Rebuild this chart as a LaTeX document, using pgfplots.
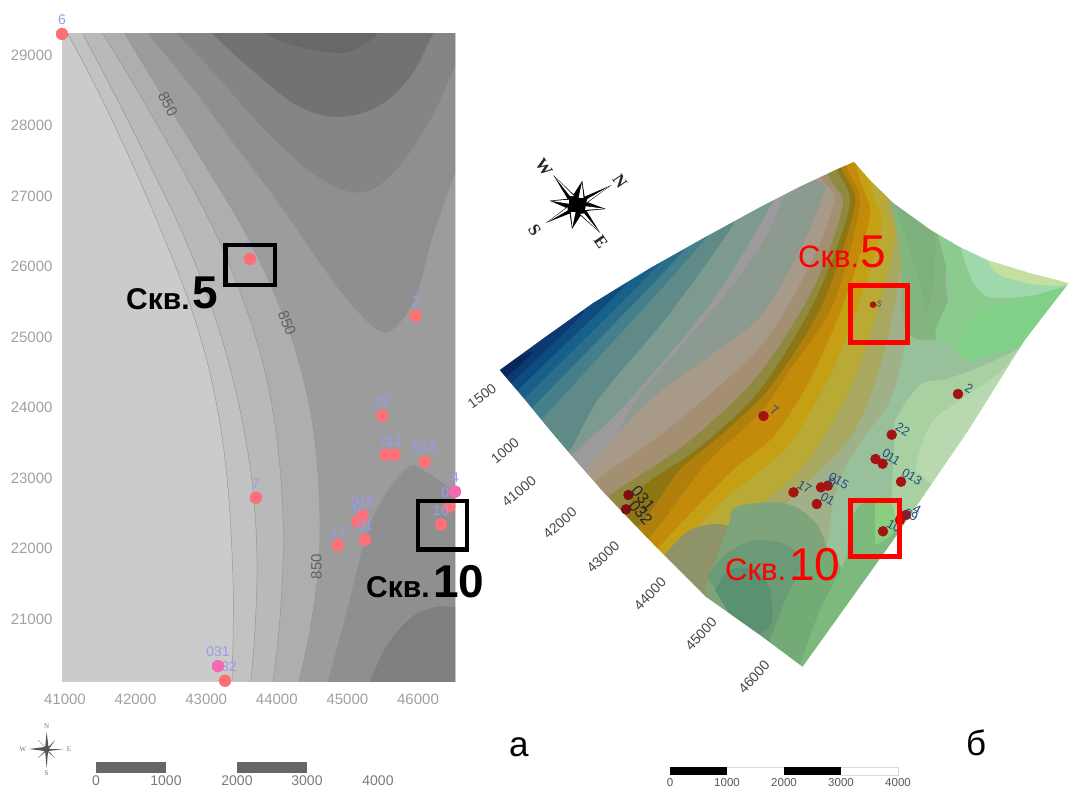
\documentclass[border=0pt]{standalone}
\usepackage{pgfplots}
\pgfplotsset{compat=1.18}
\usepackage{fontspec}
\setmainfont{Liberation Sans}
\newfontfamily\serifx{Liberation Serif}
\newcommand{\fs}[1]{\fontsize{#1}{#1}\selectfont}
\newcommand{\dc}[1]{\xglobal\definecolor{c#1}{HTML}{#1}}
\newcommand{\stripe}[2]{\dc{#1}\addplot[fill=c#1,draw=none,smooth,tension=0.5] coordinates {#2 (1150,-60) (1150,900) (600,900)};}
\newcommand{\patchs}[2]{\dc{#1}\addplot[fill=c#1,draw=none,smooth,tension=0.6] coordinates {#2};}
\newcommand{\poly}[2]{\dc{#1}\addplot[fill=c#1,draw=none] coordinates {#2} --cycle;}
\newcommand{\cont}[1]{\addplot[draw=black!42,line width=0.45pt,smooth,tension=0.6] coordinates {#1};}
\definecolor{tickgray}{HTML}{A0A0A0}
\definecolor{lilac}{HTML}{9A9AF0}
\definecolor{wellpink}{HTML}{FD7078}
\definecolor{wellmag}{HTML}{F468B0}
\definecolor{wellred}{HTML}{A51212}
\definecolor{boxred}{HTML}{FF0000}
\definecolor{wellblue}{HTML}{1F4A80}
\pgfplotsset{canvas/.style={
  anchor=south west, at={(0pt,0pt)}, scale only axis, width=1069pt, height=787pt,
  xmin=0, xmax=1069, ymin=0, ymax=787, y dir=reverse, hide axis, enlargelimits=false}}
\begin{document}
\begin{tikzpicture}
\useasboundingbox (0,0) rectangle (1069pt,787pt);
% ---------- right surface (pixel coordinates) ----------
\begin{axis}[canvas]
\poly{08285C}{(470,120)(1069,120)(1069,700)(470,700)}
\stripe{0B3A70}{(495,390)(507,377)(533,352)(545,330)}
\stripe{0E4C80}{(500,397)(512,383)(583,313)(595,280)}
\stripe{17608A}{(505,405)(518,390)(627,283)(640,250)}
\stripe{2A6E8A}{(512,412)(525,398)(663,260)(675,225)}
\stripe{44808C}{(520,420)(533,407)(687,247)(700,210)}
\stripe{5F8A88}{(530,432)(543,418)(707,237)(720,200)}
\stripe{7C9A90}{(558,462)(572,447)(600,397)(667,317)(733,225)(745,190)}
\stripe{9C9A9C}{(563,465)(577,450)(625,405)(713,300)(775,198)(785,165)}
\stripe{8C9A90}{(620,430)(643,390)(713,310)(760,247)(790,185)(810,150)}
\stripe{A89A88}{(575,480)(588,467)(647,403)(700,363)(760,317)(800,250)(825,190)(830,150)}
\stripe{A48F72}{(588,490)(600,477)(667,430)(760,347)(810,265)(835,200)(838,145)}
\stripe{8F8A40}{(601,506)(613,493)(687,443)(760,373)(815,285)(843,205)(846,140)}
\stripe{8E7615}{(613,522)(625,510)(647,483)(700,447)(760,390)(815,300)(850,205)(852,125)}
\stripe{B07F0C}{(628,535)(645,520)(680,470)(727,430)(772,385)(822,305)(855,205)(856,125)}
\stripe{C48A0A}{(640,548)(660,525)(707,463)(760,413)(790,370)(833,305)(860,205)(862,125)}
\stripe{C4A012}{(650,558)(670,535)(733,470)(773,437)(810,380)(845,300)(870,215)(874,130)}
\stripe{B8AA35}{(660,575)(680,545)(727,497)(787,447)(830,375)(860,300)(882,225)(888,150)}
\stripe{A8A860}{(672,585)(690,565)(735,525)(800,470)(845,400)(875,320)(895,240)(905,165)}
\stripe{A0B088}{(690,600)(720,565)(800,490)(855,430)(885,350)(905,250)(925,175)}
% right-hand greens
\patchs{98C09A}{(892,180)(905,250)(907,330)(890,400)(862,440)(840,480)(830,530)(840,600)(1100,600)(1100,170)}
\patchs{82B67E}{(885,175)(900,250)(906,330)(943,338)(950,315)(945,280)(950,240)(925,215)}
\patchs{7CB07C}{(880,170)(893,200)(910,250)(924,300)(926,312)(932,290)(935,240)(925,215)}
\patchs{8CCB8E}{(935,225)(950,290)(945,345)(1100,340)(1100,280)(1030,273)(985,258)}
\patchs{9FD8AC}{(960,245)(975,285)(1000,298)(1075,288)(1080,275)(1000,255)}
\patchs{C4DFA0}{(985,255)(1000,275)(1040,285)(1070,283)(1030,268)}
\patchs{80D088}{(955,352)(968,322)(985,310)(1020,300)(1075,285)(1075,300)(1040,335)(1000,352)(970,362)}
\patchs{A8D0A0}{(895,420)(920,385)(950,378)(1000,358)(1050,330)(1069,300)(1060,400)(960,480)(890,540)}
\patchs{B8D8B0}{(915,470)(930,425)(960,400)(1000,372)(1040,330)(1050,400)(950,500)}
% bottom greens
\patchs{8F9468}{(665,555)(690,530)(725,525)(740,545)(720,600)(690,590)}
\patchs{7FA47C}{(705,590)(728,527)(737,507)(783,503)(813,520)(828,550)(850,620)(820,690)(720,620)}
\patchs{6A9A76}{(707,577)(727,553)(757,540)(790,547)(805,570)(800,600)(795,660)(760,650)}
\patchs{5A9170}{(715,590)(730,570)(755,570)(770,590)(770,625)(745,640)}
\patchs{72AB76}{(770,640)(790,590)(810,560)(830,550)(850,600)(830,650)(800,690)}
\patchs{7DB87C}{(795,680)(820,610)(845,560)(850,520)(870,500)(885,520)(895,550)(830,690)}
\patchs{8ACF80}{(875,495)(890,500)(895,530)(875,545)}
% white masks outside the surface
\poly{FFFFFF}{(460,-10)(1100,-10)(1100,283)(1069,283)(1030,273)(987.5,260)(960,247)(931,230)(893.5,203)(870,180)(854,161.7)(835,170)(799.5,186.7)(760,207)(705.6,236.7)(650,268)(592.8,303)(545,337)(499.5,370)(460,370)}
\poly{FFFFFF}{(460,369)(499.5,370)(525,400)(549.5,430)(575,460)(604,493)(649,540)(705.6,596.7)(762,636.7)(802.6,667)(802.6,800)(460,800)}
\poly{FFFFFF}{(802.6,667)(893.5,540)(968.7,430)(1025,340)(1069,283)(1100,283)(1100,800)(790,800)}
% wells on the surface
\addplot[only marks,color=wellred,mark=*,mark size=5pt,
  nodes near coords,point meta=explicit symbolic,
  nodes near coords style={font=\fs{12.5},text=wellblue,rotate=-30,anchor=center,inner sep=0pt,xshift=7pt,yshift=10pt}]
 table[meta=label,row sep=\\]{x y label\\
 958 394 2\\ 891.7 434.7 22\\ 875.5 459 0\\ 882.6 463.7 11\\ 901 481.7 013\\
 827.8 485.7 015\\ 821 487.3 0\\ 793.5 492.3 17\\ 816.8 504 01\\ 883 531.3 10\\
 906 515 4\\ 900 520 09\\ 763.5 416 7\\};
\addplot[only marks,color=wellred,mark=*,mark size=3pt,
  nodes near coords,point meta=explicit symbolic,
  nodes near coords style={font=\fs{9},text=black!70,rotate=-30,anchor=center,inner sep=0pt,xshift=5pt,yshift=4pt}]
 table[meta=label,row sep=\\]{x y label\\ 873 304.7 5\\};
\addplot[only marks,color=wellred!80!black,mark=*,mark size=5pt,
  nodes near coords,point meta=explicit symbolic,
  nodes near coords style={font=\fs{16},text=black!85,rotate=-50,anchor=center,inner sep=0pt,xshift=12pt,yshift=9pt}]
 table[meta=label,row sep=\\]{x y label\\ 628.5 495 031\\ 626 509.3 032\\};
% rotated coordinate labels
\foreach \t/\xx/\yy/\r/\s in {1500/482/396/36/14,1000/505/451/40/14,41000/519/491/39/14,42000/560/523/41/14,43000/603/557/44/14,44000/650/594/46/14,45000/701/634/47/14,46000/754/677/48/14}{
 \edef\tmp{\noexpand\node[rotate=\r,text=black!72,font=\noexpand\fs{\s}] at (axis cs:\xx,\yy) {\t};}\tmp}
\end{axis}
% ---------- left contour map (pixel coordinates) ----------
\begin{axis}[anchor=south west,at={(62pt,106pt)},scale only axis,width=393pt,height=647pt,
  xmin=62,xmax=455,ymin=34,ymax=681,y dir=reverse,hide axis,enlargelimits=false]
\poly{CBCBCB}{(0,0)(500,0)(500,700)(0,700)}
\patchs{C2C2C2}{(60,15)(68,34)(100,95)(135,170)(165,240)(190,305)(208,365)(221,430)(229,500)(233,580)(233,640)(232,681)(230,720)(520,720)(520,0)}
\patchs{B9B9B9}{(75,15)(83,34)(115,95)(150,165)(182,232)(208,297)(228,360)(243,425)(253,490)(257,560)(255,630)(250.7,681)(245,720)(520,720)(520,0)}
\patchs{AEAEAE}{(92,15)(103,34)(140,95)(180,165)(215,232)(242,297)(262,360)(275,425)(282,495)(283,560)(279,630)(273,681)(268,720)(520,720)(520,0)}
\patchs{9C9C9C}{(113,15)(125,34)(165,100)(205,165)(245,232)(275,295)(297,355)(312,420)(319,490)(319,560)(310,630)(299,681)(290,720)(520,720)(520,0)}
\patchs{8F8F8F}{(130,10)(148,34)(190,85)(235,145)(280,205)(325,270)(358,312)(383,332)(402,320)(418,290)(433,235)(455,173)(480,100)(480,10)}
\patchs{858585}{(165,10)(177,34)(217,77)(267,133)(317,177)(357,193)(390,177)(427,127)(455,67)(480,10)}
\patchs{727272}{(200,10)(213,34)(267,83)(300,107)(337,117)(377,107)(410,77)(433,34)(445,10)}
\patchs{686868}{(250,10)(267,34)(300,47)(340,53)(360,47)(377,34)(390,10)}
\patchs{8F8F8F}{(318,720)(328,681)(348,607)(365,540)(382,500)(409,467)(426,472)(455,492)(480,510)(480,720)}
\patchs{7F7F7F}{(355,720)(370,681)(388.5,643)(412,617)(436,607)(455,607)(480,607)(480,720)}
\cont{(68,34)(100,95)(135,170)(165,240)(190,305)(208,365)(221,430)(229,500)(233,580)(233,640)(232,681)}
\cont{(83,34)(115,95)(150,165)(182,232)(208,297)(228,360)(243,425)(253,490)(257,560)(255,630)(250.7,681)}
\cont{(103,34)(140,95)(180,165)(215,232)(242,297)(262,360)(275,425)(282,495)(283,560)(279,630)(273,681)}
\cont{(125,34)(165,100)(205,165)(245,232)(275,295)(297,355)(312,420)(319,490)(319,560)(310,630)(299,681)}
\cont{(148,34)(190,85)(235,145)(280,205)(325,270)(358,312)(383,332)(402,320)(418,290)(433,235)(455,173)}
\cont{(177,34)(217,77)(267,133)(317,177)(357,193)(390,177)(427,127)(455,67)}
\cont{(328,681)(348,607)(365,540)(382,500)(409,467)(426,472)(455,492)}
\node[rotate=-62,text=black!62,font=\fs{15}] at (axis cs:168,104) {850};
\node[rotate=-68,text=black!62,font=\fs{15}] at (axis cs:287,323) {850};
\node[rotate=90,text=black!62,font=\fs{15}] at (axis cs:316.5,566.7) {850};
\end{axis}
% ---------- left wells with true map coordinates ----------
\begin{axis}[anchor=south west,at={(62pt,106pt)},scale only axis,width=393pt,height=647pt,
  xmin=40958,xmax=46524,ymin=20121,ymax=29298,clip=false,enlargelimits=false,
  axis line style={draw=none},major tick length=0pt,
  xtick={41000,42000,43000,44000,45000,46000},ytick={21000,22000,23000,24000,25000,26000,27000,28000,29000},
  scaled ticks=false,
  /pgf/number format/assume math mode=true,/pgf/number format/1000 sep={},
  tick label style={font=\fs{15},text=tickgray},
  xticklabel style={yshift=-9pt},yticklabel style={xshift=-6pt}]
\addplot[only marks,color=wellpink,mark=*,mark size=6pt,
  nodes near coords,point meta=explicit symbolic,
  nodes near coords style={font=\fs{14},text=lilac,anchor=center,inner sep=0pt,yshift=14pt}]
 table[meta=label,row sep=\\]{x y label\\
 40958 29298 6\\ 43620 26106 5\\ 45967 25298 2\\ 45490 23884 22\\
 45540 23330 0\\ 45669 23330 11\\ 46095 23231 013\\ 43705 22721 7\\
 46443 22593 09\\ 46326 22343 10\\ 45214 22465 015\\ 45142 22380 0\\
 45249 22125 01\\ 44864 22045 17\\ 43266 20125 032\\};
\addplot[only marks,color=wellmag,mark=*,mark size=6pt,
  nodes near coords,point meta=explicit symbolic,
  nodes near coords style={font=\fs{14},text=lilac,anchor=center,inner sep=0pt,yshift=14pt}]
 table[meta=label,row sep=\\]{x y label\\ 46524 22806 4\\ 43167 20333 031\\};
\end{axis}
% ---------- overlay (pixel coordinates) ----------
\begin{axis}[canvas,clip=false]
\addplot[draw=black,line width=4.5pt] coordinates {(225.5,245)(275,245)(275,285)(225.5,285)} --cycle;
\addplot[draw=black,line width=4.5pt] coordinates {(418,501)(467,501)(467,549.5)(418,549.5)} --cycle;
\addplot[draw=boxred,line width=5pt] coordinates {(850.2,285.5)(907,285.5)(907,342.5)(850.2,342.5)} --cycle;
\addplot[draw=boxred,line width=5pt] coordinates {(850.2,500.5)(899.5,500.5)(899.5,556.5)(850.2,556.5)} --cycle;
% scale bars
\poly{666666}{(96,762)(166,762)(166,773)(96,773)}
\poly{666666}{(237,762)(307,762)(307,773)(237,773)}
\poly{000000}{(670,767)(727,767)(727,775)(670,775)}
\poly{000000}{(784,767)(841,767)(841,775)(784,775)}
\addplot[draw=black!15,line width=0.5pt] coordinates {(727,767)(784,767)};
\addplot[draw=black!15,line width=0.5pt] coordinates {(841,767)(898,767)(898,775)(841,775)};
\foreach \t/\xx in {0/96,1000/166,2000/237,3000/307,4000/378}{
 \edef\tmp{\noexpand\node[text=black!52,font=\noexpand\fs{14}] at (axis cs:\xx,781) {\t};}\tmp}
\foreach \t/\xx in {0/670,1000/727,2000/784,3000/841,4000/898}{
 \edef\tmp{\noexpand\node[text=black!65,font=\noexpand\fs{11.5}] at (axis cs:\xx,782.5) {\t};}\tmp}
% right compass
\poly{000000}{(553.3,175)(573.5,194.4)(582.3,180.7)(584.6,196.7)(611.6,185)(587.9,202.3)(606,209)(586.5,210.9)(600.3,233)(580.6,215.6)(572,229)(569.7,213.5)(545.8,223)(566.1,207.7)(549.5,200.7)(567.6,198.8)}
\poly{FFFFFF}{(587.4,199)(608.8,186.6)(586.3,202.7)}
\poly{FFFFFF}{(569.9,196)(555.2,177.4)(574,196)}
\poly{FFFFFF}{(567.6,210.4)(548.3,221.6)(567.7,207.3)}
\poly{FFFFFF}{(584,213.4)(598.4,230.8)(580.1,214)}
\poly{FFFFFF}{(578.6,197.7)(581.9,182.6)(583.5,197.9)}
\poly{FFFFFF}{(585.7,206.2)(603.7,208.7)(585.1,209.9)}
\poly{FFFFFF}{(575.5,212.2)(572.4,227.1)(570.8,212.2)}
\poly{FFFFFF}{(568.8,203.7)(551.7,201)(569,199.7)}
\node[rotate=-55,font=\serifx\bfseries\fs{17},text=black!85] at (axis cs:620,181) {N};
\node[rotate=-55,font=\serifx\bfseries\fs{17},text=black!85] at (axis cs:544,167) {W};
\node[rotate=-55,font=\serifx\bfseries\fs{17},text=black!85] at (axis cs:534.5,230) {S};
\node[rotate=-55,font=\serifx\bfseries\fs{17},text=black!85] at (axis cs:601,242) {E};
% left compass
\poly{555555}{(46.6,732)(48.5,747)(55,740)(49,749)(64,749)(48.5,751)(55,758)(48,752)(46.6,768)(45.2,752)(38,758)(44.7,751)(29,749)(44.7,747)(38,740)(45.2,747)}
\node[font=\serifx\fs{7},text=black!55] at (axis cs:46.6,726) {N};
\node[font=\serifx\fs{7},text=black!55] at (axis cs:46.6,773) {S};
\node[font=\serifx\fs{7},text=black!55] at (axis cs:23,749) {W};
\node[font=\serifx\fs{7},text=black!55] at (axis cs:69,749) {E};
% annotations
\node[anchor=base west,inner sep=0pt,font=\bfseries\fs{30}] at (axis cs:126,309) {Скв.};
\node[anchor=base west,inner sep=0pt,font=\bfseries\fs{46}] at (axis cs:192,308) {5};
\node[anchor=base west,inner sep=0pt,font=\bfseries\fs{30}] at (axis cs:366,597) {Скв.};
\node[anchor=base west,inner sep=0pt,font=\bfseries\fs{46}] at (axis cs:433,597) {10};
\node[anchor=base west,inner sep=0pt,font=\fs{31},text=boxred] at (axis cs:798,267) {Скв.};
\node[anchor=base west,inner sep=0pt,font=\fs{46},text=boxred] at (axis cs:860,267) {5};
\node[anchor=base west,inner sep=0pt,font=\fs{31},text=boxred] at (axis cs:725,580) {Скв.};
\node[anchor=base west,inner sep=0pt,font=\fs{46},text=boxred] at (axis cs:789,580) {10};
\node[anchor=base west,inner sep=0pt,font=\fs{35}] at (axis cs:509,756) {а};
\node[anchor=base west,inner sep=0pt,font=\fs{35}] at (axis cs:966,755) {б};
\end{axis}
\end{tikzpicture}
\end{document}
